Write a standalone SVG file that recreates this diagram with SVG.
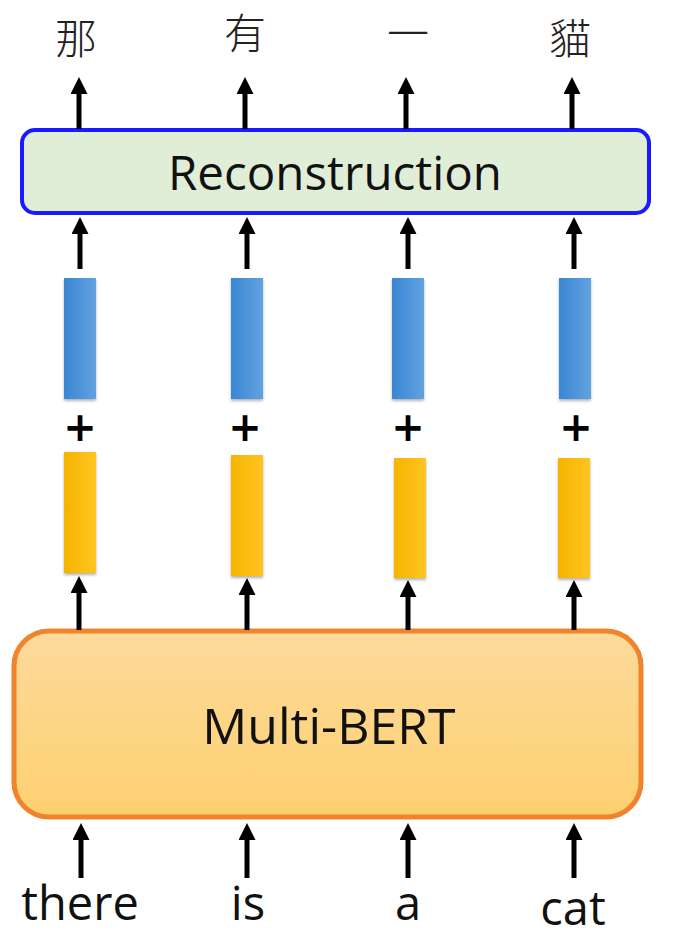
<svg xmlns="http://www.w3.org/2000/svg" width="683" height="950" viewBox="0 0 683 950">
<defs>
<marker id="ah" markerWidth="18" markerHeight="18" refX="1" refY="8.5" orient="auto" markerUnits="userSpaceOnUse">
<path d="M0,0 L17,8.5 L0,17 Z" fill="#000"/>
</marker>
<linearGradient id="blue" x1="0" y1="0" x2="1" y2="0">
<stop offset="0" stop-color="#3a86d2"/>
<stop offset="1" stop-color="#62a2e0"/>
</linearGradient>
<linearGradient id="yellow" x1="0" y1="0" x2="1" y2="0">
<stop offset="0" stop-color="#f5b400"/>
<stop offset="1" stop-color="#ffc522"/>
</linearGradient>
<linearGradient id="orange" x1="0" y1="0" x2="0" y2="1">
<stop offset="0" stop-color="#fdda9c"/>
<stop offset="1" stop-color="#fdd070"/>
</linearGradient>
<filter id="sh" x="-30%" y="-10%" width="160%" height="125%">
<feDropShadow dx="0" dy="2" stdDeviation="1.5" flood-color="#000" flood-opacity="0.3"/>
</filter>
</defs>
<style>
.lbl{font-family:"Open Sans","Noto Sans",sans-serif;fill:#111;text-anchor:middle}
.cjk{font-family:"Noto Sans CJK TC","Noto Sans CJK SC",sans-serif;fill:#222;text-anchor:middle;font-size:42px;font-weight:300}
.arr{stroke:#000;stroke-width:5;fill:none;marker-end:url(#ah)}
.plus{font-family:"DejaVu Sans",sans-serif;font-weight:bold;font-size:40px;fill:#000;text-anchor:middle}
</style>
<rect width="683" height="950" fill="#fff"/>

<g id="outputs">
<text class="cjk" x="76" y="54">那</text>
<text class="cjk" x="245" y="49">有</text>
<text class="cjk" x="408" y="49">一</text>
<text class="cjk" x="570" y="54">貓</text>
</g>

<g id="reconstruction">
<rect x="22" y="130" width="627" height="83" rx="13" fill="#e0eed8" stroke="#1a1aff" stroke-width="4"/>
<text class="lbl" x="335" y="190" font-size="47.5">Reconstruction</text>
</g>

<g id="vectors-blue">
<rect x="64" y="278" width="32" height="121" fill="url(#blue)" filter="url(#sh)"/>
<rect x="231" y="278" width="32" height="121" fill="url(#blue)" filter="url(#sh)"/>
<rect x="392" y="278" width="32" height="121" fill="url(#blue)" filter="url(#sh)"/>
<rect x="559" y="278" width="32" height="121" fill="url(#blue)" filter="url(#sh)"/>
</g>

<g id="plus">
<text class="plus" x="80" y="441">+</text>
<text class="plus" x="245" y="441">+</text>
<text class="plus" x="408" y="441">+</text>
<text class="plus" x="576" y="441">+</text>
</g>

<g id="vectors-yellow">
<rect x="64" y="452" width="32" height="121" fill="url(#yellow)" filter="url(#sh)"/>
<rect x="231" y="455" width="32" height="121" fill="url(#yellow)" filter="url(#sh)"/>
<rect x="394" y="458" width="32" height="120" fill="url(#yellow)" filter="url(#sh)"/>
<rect x="558" y="458" width="32" height="120" fill="url(#yellow)" filter="url(#sh)"/>
</g>

<g id="multibert">
<rect x="14" y="631" width="627" height="186" rx="35" fill="url(#orange)" stroke="#f0842c" stroke-width="5"/>
<text class="lbl" x="329" y="744" font-size="50">Multi-BERT</text>
</g>

<g id="inputs">
<text class="lbl" x="80" y="920" font-size="47">there</text>
<text class="lbl" x="248" y="920" font-size="47">is</text>
<text class="lbl" x="408" y="920" font-size="47">a</text>
<text class="lbl" x="573" y="925" font-size="47">cat</text>
</g>

<g id="connectors">
<line class="arr" x1="79" y1="129" x2="79" y2="93"/>
<line class="arr" x1="245" y1="129" x2="245" y2="93"/>
<line class="arr" x1="406" y1="129" x2="406" y2="93"/>
<line class="arr" x1="572" y1="129" x2="572" y2="93"/>

<line class="arr" x1="80" y1="269" x2="80" y2="233"/>
<line class="arr" x1="247" y1="269" x2="247" y2="233"/>
<line class="arr" x1="408" y1="269" x2="408" y2="233"/>
<line class="arr" x1="574" y1="269" x2="574" y2="233"/>

<line class="arr" x1="79" y1="630" x2="79" y2="592"/>
<line class="arr" x1="247" y1="630" x2="247" y2="594"/>
<line class="arr" x1="408" y1="630" x2="408" y2="596"/>
<line class="arr" x1="574" y1="630" x2="574" y2="596"/>

<line class="arr" x1="81" y1="878" x2="81" y2="839"/>
<line class="arr" x1="247" y1="878" x2="247" y2="839"/>
<line class="arr" x1="408" y1="878" x2="408" y2="839"/>
<line class="arr" x1="574" y1="878" x2="574" y2="839"/>
</g>
</svg>
